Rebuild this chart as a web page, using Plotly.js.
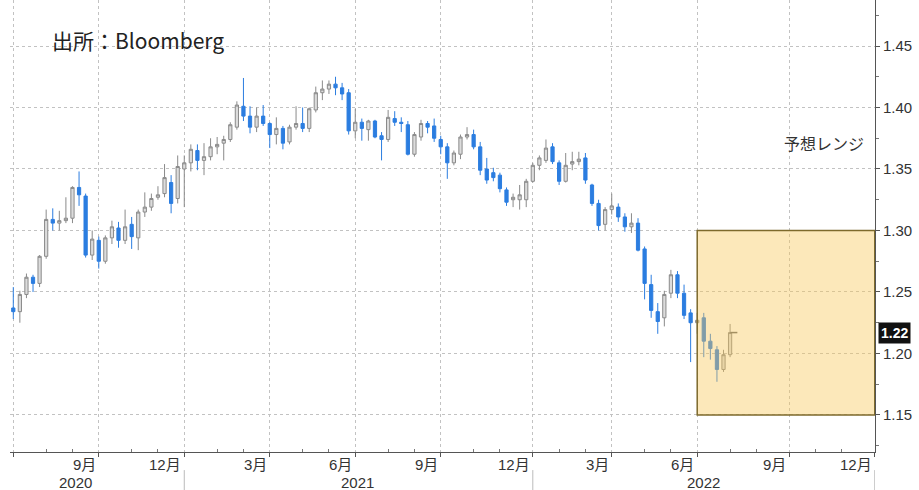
<!DOCTYPE html>
<html><head><meta charset="utf-8">
<script src="https://cdn.plot.ly/plotly-3.0.1.min.js"></script>
<style>html,body{margin:0;padding:0;background:#fff}</style>
</head><body><div id="chart" style="width:919px;height:490px"></div>
<script>
// Weekly bars (week ending Friday)
const weeks = [
'2020-06-26','2020-07-03','2020-07-10','2020-07-17','2020-07-24','2020-07-31','2020-08-07','2020-08-14','2020-08-21','2020-08-28',
'2020-09-04','2020-09-11','2020-09-18','2020-09-25','2020-10-02','2020-10-09','2020-10-16','2020-10-23','2020-10-30','2020-11-06',
'2020-11-13','2020-11-20','2020-11-27','2020-12-04','2020-12-11','2020-12-18','2020-12-25','2021-01-01','2021-01-08','2021-01-15',
'2021-01-22','2021-01-29','2021-02-05','2021-02-12','2021-02-19','2021-02-26','2021-03-05','2021-03-12','2021-03-19','2021-03-26',
'2021-04-02','2021-04-09','2021-04-16','2021-04-23','2021-04-30','2021-05-07','2021-05-14','2021-05-21','2021-05-28','2021-06-04',
'2021-06-11','2021-06-18','2021-06-25','2021-07-02','2021-07-09','2021-07-16','2021-07-23','2021-07-30','2021-08-06','2021-08-13',
'2021-08-20','2021-08-27','2021-09-03','2021-09-10','2021-09-17','2021-09-24','2021-10-01','2021-10-08','2021-10-15','2021-10-22',
'2021-10-29','2021-11-05','2021-11-12','2021-11-19','2021-11-26','2021-12-03','2021-12-10','2021-12-17','2021-12-24','2021-12-31',
'2022-01-07','2022-01-14','2022-01-21','2022-01-28','2022-02-04','2022-02-11','2022-02-18','2022-02-25','2022-03-04','2022-03-11',
'2022-03-18','2022-03-25','2022-04-01','2022-04-08','2022-04-15','2022-04-22','2022-04-29','2022-05-06','2022-05-13','2022-05-20',
'2022-05-27','2022-06-03','2022-06-10','2022-06-17','2022-06-24','2022-07-01','2022-07-08','2022-07-15','2022-07-22','2022-07-29'];
const open = [
1.237,1.234,1.248,1.262,1.257,1.279,1.309,1.306,1.308,1.310,
1.335,1.328,1.280,1.292,1.275,1.294,1.302,1.292,1.305,1.294,
1.315,1.319,1.327,1.330,1.339,1.326,1.350,1.355,1.365,1.357,
1.360,1.368,1.371,1.374,1.384,1.401,1.393,1.384,1.393,1.387,
1.378,1.383,1.372,1.384,1.387,1.383,1.398,1.412,1.415,1.419,
1.416,1.412,1.381,1.388,1.382,1.389,1.377,1.374,1.391,1.388,
1.386,1.362,1.376,1.387,1.385,1.374,1.368,1.355,1.362,1.376,
1.378,1.368,1.350,1.347,1.345,1.333,1.325,1.325,1.325,1.340,
1.353,1.357,1.368,1.355,1.340,1.354,1.356,1.359,1.337,1.322,
1.305,1.317,1.319,1.311,1.303,1.306,1.285,1.256,1.234,1.229,
1.249,1.264,1.249,1.233,1.225,1.229,1.210,1.203,1.187,1.199];
const high = [
1.254,1.251,1.265,1.264,1.280,1.317,1.318,1.316,1.327,1.336,
1.348,1.330,1.300,1.295,1.296,1.308,1.307,1.317,1.311,1.317,
1.331,1.330,1.336,1.354,1.345,1.361,1.361,1.370,1.370,1.371,
1.375,1.376,1.377,1.388,1.405,1.424,1.401,1.400,1.402,1.388,
1.392,1.385,1.386,1.401,1.400,1.400,1.417,1.422,1.422,1.425,
1.420,1.415,1.399,1.391,1.390,1.390,1.380,1.398,1.397,1.392,
1.389,1.380,1.390,1.389,1.391,1.377,1.371,1.365,1.378,1.384,
1.382,1.372,1.359,1.351,1.347,1.335,1.330,1.337,1.342,1.355,
1.361,1.374,1.371,1.357,1.363,1.364,1.364,1.363,1.338,1.325,
1.319,1.330,1.322,1.314,1.314,1.310,1.287,1.264,1.241,1.251,
1.268,1.267,1.256,1.236,1.233,1.233,1.216,1.206,1.203,1.224];
const low = [
1.228,1.225,1.245,1.250,1.254,1.277,1.300,1.300,1.306,1.306,
1.320,1.278,1.276,1.269,1.273,1.289,1.286,1.289,1.285,1.284,
1.311,1.316,1.325,1.327,1.314,1.322,1.319,1.348,1.349,1.345,
1.357,1.362,1.357,1.372,1.382,1.389,1.379,1.380,1.385,1.367,
1.370,1.366,1.370,1.382,1.380,1.380,1.396,1.406,1.411,1.410,
1.406,1.378,1.375,1.373,1.373,1.375,1.357,1.372,1.385,1.380,
1.361,1.360,1.373,1.379,1.372,1.362,1.342,1.353,1.358,1.374,
1.366,1.345,1.338,1.340,1.331,1.320,1.319,1.317,1.319,1.339,
1.349,1.355,1.354,1.337,1.339,1.349,1.353,1.338,1.320,1.300,
1.300,1.313,1.307,1.299,1.298,1.283,1.244,1.229,1.216,1.222,
1.245,1.245,1.228,1.193,1.216,1.197,1.195,1.177,1.185,1.197];
const close = [
1.234,1.248,1.262,1.257,1.279,1.309,1.306,1.308,1.310,1.335,
1.329,1.280,1.293,1.275,1.294,1.303,1.292,1.303,1.295,1.315,
1.319,1.326,1.329,1.343,1.322,1.352,1.355,1.366,1.357,1.360,
1.368,1.370,1.374,1.386,1.402,1.393,1.384,1.393,1.387,1.378,
1.383,1.371,1.384,1.387,1.383,1.399,1.412,1.415,1.419,1.416,
1.411,1.381,1.388,1.383,1.389,1.376,1.374,1.392,1.388,1.387,
1.362,1.378,1.387,1.384,1.375,1.368,1.355,1.363,1.376,1.378,
1.368,1.349,1.341,1.343,1.334,1.323,1.327,1.329,1.340,1.353,
1.359,1.367,1.356,1.340,1.353,1.356,1.358,1.341,1.322,1.304,
1.317,1.320,1.311,1.303,1.306,1.284,1.257,1.235,1.226,1.248,
1.264,1.249,1.231,1.225,1.227,1.210,1.204,1.187,1.199,1.217];

// Axis ticks / labels
const quarterTicks = ['2020-06-26','2020-09-25','2020-12-25','2021-03-26','2021-06-25','2021-09-24','2021-12-31','2022-03-25','2022-06-24','2022-09-30','2022-12-30'];
const quarterLabels = ['','9月','12月','3月','6月','9月','12月','3月','6月','9月','12月'];
const monthTicks = ['2020-07-31','2020-08-28','2020-10-30','2020-11-27','2021-01-29','2021-02-26','2021-04-30','2021-05-28','2021-07-30','2021-08-27','2021-10-29','2021-11-26','2022-01-28','2022-02-25','2022-04-29','2022-05-27','2022-07-29','2022-08-26','2022-10-28','2022-11-25'];
const yearEnds = ['2020-12-25','2021-12-31','2022-12-30'];
const yearLabels = ['2020','2021','2022'];
const yTicks = [1.15,1.20,1.25,1.30,1.35,1.40,1.45];
const forecastRange = [1.15, 1.30];
const forecastPeriod = ['2022-06-24','2022-12-30'];
const lastPriceLabel = '1.22';

const NUMF = 'Liberation Sans, Arial, Noto Sans CJK JP, sans-serif';
const JPF = 'Noto Sans CJK JP, sans-serif';

const lastIdx = weeks.length - 1;
const dashDate = new Date(new Date(weeks[lastIdx]).getTime() + 4*86400000).toISOString().slice(0,10);

const traces = [
  {
    type: 'candlestick', x: weeks, open: open, high: high, low: low, close: close,
    increasing: {line: {color: '#8a8a8a', width: 1}, fillcolor: '#dcdcdc'},
    decreasing: {line: {color: '#2b7de0', width: 1}, fillcolor: '#2b7de0'},
    whiskerwidth: 0, showlegend: false, hoverinfo: 'skip'
  },
  {
    type: 'scatter', mode: 'markers', x: [dashDate], y: [close[lastIdx]],
    marker: {symbol: 'line-ew', size: 5, line: {width: 1.5, color: '#666'}},
    showlegend: false, hoverinfo: 'skip'
  }
];

const annotations = [];
quarterTicks.forEach((d, k) => {
  if (!quarterLabels[k]) return;
  annotations.push({x: d, xref: 'x', xanchor: 'right', xshift: -1, y: 0, yref: 'paper', yanchor: 'top', yshift: -2,
    text: quarterLabels[k], showarrow: false, font: {family: NUMF, size: 15, color: '#333'}});
});
const yearPos = ['2020-08-31','2021-06-27','2022-07-01'];
yearLabels.forEach((t, k) => {
  annotations.push({x: yearPos[k], xref: 'x', xanchor: 'center', y: 0, yref: 'paper', yanchor: 'top', yshift: -20,
    text: t, showarrow: false, font: {family: NUMF, size: 15, color: '#333'}});
});
annotations.push({x: 0.046, xref: 'paper', xanchor: 'left', y: 0.9115, yref: 'paper', yanchor: 'middle',
  text: '出所：Bloomberg', showarrow: false, font: {family: JPF, size: 21, color: '#222'}});
annotations.push({x: 1, xref: 'paper', xanchor: 'right', xshift: -9, y: 1.371, yref: 'y', yanchor: 'middle',
  text: '予想レンジ', showarrow: false, font: {family: JPF, size: 16, color: '#333'}});
annotations.push({x: 1, xref: 'paper', xanchor: 'left', xshift: 3, y: close[lastIdx], yref: 'y', yanchor: 'middle',
  text: '<b>' + lastPriceLabel + '</b>', showarrow: false, bgcolor: '#111', borderpad: 2,
  font: {family: NUMF, size: 14, color: '#fff'}});

const shapes = [
  {type: 'rect', xref: 'x', yref: 'y', x0: forecastPeriod[0], x1: forecastPeriod[1], y0: forecastRange[0], y1: forecastRange[1],
   fillcolor: 'rgba(248,200,90,0.42)', line: {color: '#7d6a2c', width: 1.5}, layer: 'above'}
];
yearEnds.forEach(d => shapes.push({type: 'line', xref: 'x', yref: 'paper', x0: d, x1: d, y0: -0.04, y1: -0.085,
  line: {color: '#bbb', width: 1}}));

const layout = {
  width: 919, height: 490,
  margin: {l: 10, r: 44, t: 0, b: 38},
  paper_bgcolor: '#fff', plot_bgcolor: '#fff',
  showlegend: false,
  xaxis: {
    type: 'date', range: ['2020-06-22 12:00', '2022-12-30 06:00'],
    rangeslider: {visible: false},
    showline: true, linecolor: '#555', linewidth: 1,
    tickmode: 'array', tickvals: quarterTicks, showticklabels: false,
    ticks: 'outside', ticklen: 4, tickcolor: '#555',
    showgrid: true, gridcolor: '#c2c2c2', griddash: 'dot', gridwidth: 1, zeroline: false,
    minor: {tickmode: 'array', tickvals: monthTicks, ticks: 'inside', ticklen: 3, tickcolor: '#777', showgrid: false},
    fixedrange: true
  },
  yaxis: {
    side: 'right', range: [1.1199, 1.4874],
    tickmode: 'array', tickvals: yTicks, ticktext: yTicks.map(v => v.toFixed(2)),
    ticks: 'outside', ticklen: 4, tickcolor: '#555',
    showline: true, linecolor: '#555', linewidth: 1,
    showgrid: true, gridcolor: '#c2c2c2', griddash: 'dot', gridwidth: 1, zeroline: false,
    tickfont: {family: NUMF, size: 15, color: '#333'},
    minor: {dtick: 0.025, ticks: 'outside', ticklen: 3, tickcolor: '#777', showgrid: false},
    fixedrange: true
  },
  annotations: annotations,
  shapes: shapes
};

Plotly.newPlot('chart', traces, layout, {staticPlot: true, displayModeBar: false});
</script>
</body></html>
